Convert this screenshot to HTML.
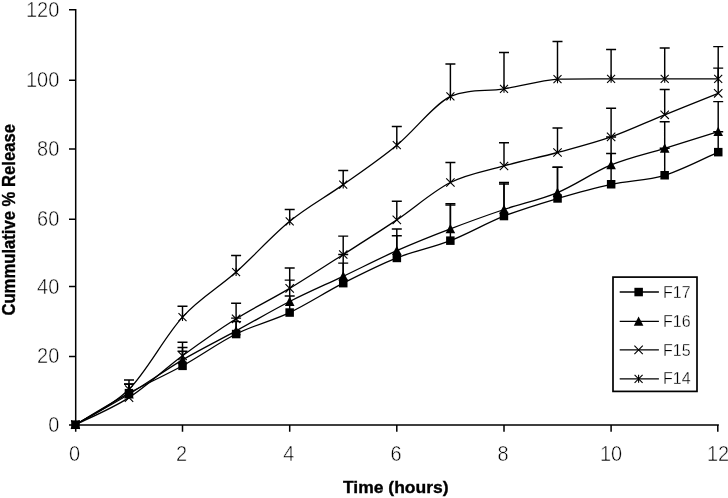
<!DOCTYPE html>
<html lang="en"><head><meta charset="utf-8"><title>Cumulative % Release vs Time</title>
<style>html,body{margin:0;padding:0;background:#fff;overflow:hidden}svg{display:block}</style></head>
<body>
<svg width="728" height="498" viewBox="0 0 728 498">
<rect width="728" height="498" fill="#fff"/>
<path d="M75.7 9.1V431.8M69.0 425.0H718.9M69.0 356.4H75.4M69.0 286.5H75.4M69.0 219.3H75.4M69.0 148.9H75.4M69.0 80.2H75.4M69.0 9.8H75.4M182.5 425.0V431.8M289.7 425.0V431.8M396.8 425.0V431.8M504.0 425.0V431.8M611.1 425.0V431.8M717.8 425.0V431.8" fill="none" stroke="#000" stroke-width="1.5"/>
<g font-family="'Liberation Sans', Arial, sans-serif" font-size="21.8px" fill="#000" stroke="#fff" stroke-width="0.5" paint-order="fill stroke">
<text x="48.2" y="432.0" textLength="11.1" lengthAdjust="spacingAndGlyphs">0</text>
<text x="37.1" y="363.4" textLength="22.2" lengthAdjust="spacingAndGlyphs">20</text>
<text x="37.1" y="293.5" textLength="22.2" lengthAdjust="spacingAndGlyphs">40</text>
<text x="37.1" y="226.3" textLength="22.2" lengthAdjust="spacingAndGlyphs">60</text>
<text x="37.1" y="155.9" textLength="22.2" lengthAdjust="spacingAndGlyphs">80</text>
<text x="25.9" y="87.2" textLength="33.4" lengthAdjust="spacingAndGlyphs">100</text>
<text x="25.9" y="16.8" textLength="33.4" lengthAdjust="spacingAndGlyphs">120</text>
<text x="68.9" y="461.4" textLength="11.1" lengthAdjust="spacingAndGlyphs">0</text>
<text x="176.1" y="461.4" textLength="11.1" lengthAdjust="spacingAndGlyphs">2</text>
<text x="283.2" y="461.4" textLength="11.1" lengthAdjust="spacingAndGlyphs">4</text>
<text x="390.4" y="461.4" textLength="11.1" lengthAdjust="spacingAndGlyphs">6</text>
<text x="497.5" y="461.4" textLength="11.1" lengthAdjust="spacingAndGlyphs">8</text>
<text x="599.9" y="461.4" textLength="22.2" lengthAdjust="spacingAndGlyphs">10</text>
<text x="707.0" y="461.4" textLength="22.2" lengthAdjust="spacingAndGlyphs">12</text>
</g>
<path d="M75.4 424.7 C84.3 419.4 111.1 403.0 129.0 393.1 C146.8 383.3 164.7 375.7 182.5 365.8 C200.4 356.0 218.3 342.9 236.1 334.0 C254.0 325.1 271.8 321.0 289.7 312.6 C307.5 304.1 325.4 292.3 343.2 283.2 C361.1 274.1 379.0 265.0 396.8 257.9 C414.7 250.8 432.5 247.6 450.4 240.6 C468.2 233.7 486.1 223.1 504.0 216.1 C521.8 209.1 539.7 203.8 557.5 198.5 C575.4 193.2 593.2 188.1 611.1 184.3 C629.0 180.4 646.8 180.6 664.7 175.3 C682.5 169.9 709.3 156.0 718.2 152.1" fill="none" stroke="#000" stroke-width="1.3"/>
<path d="M129.0 393.1V384.1M124.0 384.1H134.0M182.5 365.8V351.3M177.5 351.3H187.5M236.1 334.0V321.6M231.1 321.6H241.1M289.7 312.6V296.0M284.7 296.0H294.7M343.2 283.2V263.1M338.2 263.1H348.2M396.8 257.9V235.8M391.8 235.8H401.8M450.4 240.6V205.0M445.4 205.0H455.4M504.0 216.1V183.9M499.0 183.9H509.0M557.5 198.5V167.3M552.5 167.3H562.5M611.1 184.3V153.5M606.1 153.5H616.1M664.7 175.3V148.3M659.7 148.3H669.7M718.2 152.1V131.7M713.2 131.7H723.2" fill="none" stroke="#000" stroke-width="1.45"/>
<path d="M75.4 424.7 C84.3 419.6 111.1 405.0 129.0 394.2 C146.8 383.4 164.7 370.5 182.5 359.9 C200.4 349.4 218.3 340.6 236.1 330.9 C254.0 321.2 271.8 310.6 289.7 301.5 C307.5 292.4 325.4 284.7 343.2 276.3 C361.1 267.8 379.0 258.6 396.8 250.7 C414.7 242.8 432.5 235.7 450.4 228.9 C468.2 222.0 486.1 215.6 504.0 209.5 C521.8 203.5 539.7 200.0 557.5 192.6 C575.4 185.1 593.2 172.3 611.1 164.9 C629.0 157.5 646.8 153.8 664.7 148.3 C682.5 142.8 709.3 134.5 718.2 131.7" fill="none" stroke="#000" stroke-width="1.3"/>
<path d="M129.0 394.2V384.1M124.0 384.1H134.0M182.5 359.9V347.5M177.5 347.5H187.5M236.1 330.9V318.1M231.1 318.1H241.1M289.7 301.5V280.1M284.7 280.1H294.7M343.2 276.3V254.5M338.2 254.5H348.2M396.8 250.7V228.9M391.8 228.9H401.8M450.4 228.9V203.6M445.4 203.6H455.4M504.0 209.5V182.5M499.0 182.5H509.0M557.5 192.6V167.3M552.5 167.3H562.5M611.1 164.9V136.9M606.1 136.9H616.1M664.7 148.3V121.7M659.7 121.7H669.7M718.2 131.7V101.6M713.2 101.6H723.2" fill="none" stroke="#000" stroke-width="1.45"/>
<path d="M75.4 424.7 C84.3 420.2 111.1 409.1 129.0 397.6 C146.8 386.2 164.7 368.9 182.5 355.8 C200.4 342.7 218.3 330.0 236.1 318.8 C254.0 307.6 271.8 299.1 289.7 288.4 C307.5 277.6 325.4 265.9 343.2 254.5 C361.1 243.1 379.0 231.9 396.8 219.9 C414.7 207.9 432.5 191.5 450.4 182.5 C468.2 173.6 486.1 171.0 504.0 165.9 C521.8 160.9 539.7 157.3 557.5 152.5 C575.4 147.6 593.2 143.2 611.1 136.9 C629.0 130.6 646.8 122.0 664.7 114.8 C682.5 107.5 709.3 96.9 718.2 93.3" fill="none" stroke="#000" stroke-width="1.3"/>
<path d="M129.0 397.6V384.1M124.0 384.1H134.0M182.5 355.8V342.3M177.5 342.3H187.5M236.1 318.8V303.2M231.1 303.2H241.1M289.7 288.4V268.0M284.7 268.0H294.7M343.2 254.5V236.1M338.2 236.1H348.2M396.8 219.9V201.2M391.8 201.2H401.8M450.4 182.5V162.5M445.4 162.5H455.4M504.0 165.9V142.8M499.0 142.8H509.0M557.5 152.5V127.9M552.5 127.9H562.5M611.1 136.9V108.2M606.1 108.2H616.1M664.7 114.8V89.5M659.7 89.5H669.7M718.2 93.3V68.1M713.2 68.1H723.2" fill="none" stroke="#000" stroke-width="1.45"/>
<path d="M75.4 424.7 C84.3 418.8 111.1 407.3 129.0 389.3 C146.8 371.4 164.7 336.6 182.5 317.1 C200.4 297.5 218.3 288.1 236.1 272.1 C254.0 256.1 271.8 235.9 289.7 221.3 C307.5 206.7 325.4 197.3 343.2 184.6 C361.1 171.9 379.0 159.9 396.8 145.2 C414.7 130.5 432.5 105.8 450.4 96.4 C468.2 88.8 486.1 91.7 504.0 88.8 C521.8 86.0 539.7 80.8 557.5 79.2 C575.4 78.8 593.2 78.9 611.1 78.8 C629.0 78.8 646.8 78.8 664.7 78.8 C682.5 78.8 709.3 78.8 718.2 78.8" fill="none" stroke="#000" stroke-width="1.3"/>
<path d="M129.0 389.3V380.0M124.0 380.0H134.0M182.5 317.1V306.3M177.5 306.3H187.5M236.1 272.1V255.5M231.1 255.5H241.1M289.7 221.3V209.5M284.7 209.5H294.7M343.2 184.6V170.4M338.2 170.4H348.2M396.8 145.2V126.5M391.8 126.5H401.8M450.4 96.4V63.9M445.4 63.9H455.4M504.0 88.8V52.5M499.0 52.5H509.0M557.5 79.2V41.5M552.5 41.5H562.5M611.1 78.8V49.4M606.1 49.4H616.1M664.7 78.8V48.0M659.7 48.0H669.7M718.2 78.8V46.6M713.2 46.6H723.2" fill="none" stroke="#000" stroke-width="1.45"/>
<g fill="#000"><rect x="71.2" y="420.4" width="8.5" height="8.5"/><rect x="124.7" y="388.9" width="8.5" height="8.5"/><rect x="178.3" y="361.6" width="8.5" height="8.5"/><rect x="231.9" y="329.8" width="8.5" height="8.5"/><rect x="285.4" y="308.3" width="8.5" height="8.5"/><rect x="339.0" y="278.9" width="8.5" height="8.5"/><rect x="392.6" y="253.7" width="8.5" height="8.5"/><rect x="446.1" y="236.4" width="8.5" height="8.5"/><rect x="499.7" y="211.8" width="8.5" height="8.5"/><rect x="553.3" y="194.2" width="8.5" height="8.5"/><rect x="606.9" y="180.0" width="8.5" height="8.5"/><rect x="660.4" y="171.0" width="8.5" height="8.5"/><rect x="714.0" y="147.9" width="8.5" height="8.5"/></g>
<g fill="#000"><path d="M75.4 419.7L80.2 429.1H70.6Z"/><path d="M129.0 389.2L133.8 398.6H124.2Z"/><path d="M182.5 354.9L187.3 364.3H177.7Z"/><path d="M236.1 325.9L240.9 335.3H231.3Z"/><path d="M289.7 296.5L294.5 305.9H284.9Z"/><path d="M343.2 271.3L348.1 280.7H338.4Z"/><path d="M396.8 245.7L401.6 255.1H392.0Z"/><path d="M450.4 223.9L455.2 233.3H445.6Z"/><path d="M504.0 204.5L508.8 213.9H499.2Z"/><path d="M557.5 187.6L562.3 197.0H552.7Z"/><path d="M611.1 159.9L615.9 169.3H606.3Z"/><path d="M664.7 143.3L669.5 152.7H659.9Z"/><path d="M718.2 126.7L723.0 136.1H713.4Z"/></g>
<path d="M71.2 420.5L79.6 428.9M71.2 428.9L79.6 420.5M124.8 393.4L133.2 401.8M124.8 401.8L133.2 393.4M178.3 351.6L186.7 360.0M178.3 360.0L186.7 351.6M231.9 314.6L240.3 323.0M231.9 323.0L240.3 314.6M285.5 284.2L293.9 292.6M285.5 292.6L293.9 284.2M339.1 250.3L347.4 258.7M339.1 258.7L347.4 250.3M392.6 215.7L401.0 224.1M392.6 224.1L401.0 215.7M446.2 178.3L454.6 186.7M446.2 186.7L454.6 178.3M499.8 161.8L508.2 170.1M499.8 170.1L508.2 161.8M553.3 148.3L561.7 156.7M553.3 156.7L561.7 148.3M606.9 132.7L615.3 141.1M606.9 141.1L615.3 132.7M660.5 110.6L668.9 119.0M660.5 119.0L668.9 110.6M714.0 89.1L722.4 97.5M714.0 97.5L722.4 89.1" fill="none" stroke="#000" stroke-width="1.1"/>
<path d="M71.4 420.7L79.4 428.7M71.4 428.7L79.4 420.7M75.4 420.7V428.7M125.0 385.3L133.0 393.3M125.0 393.3L133.0 385.3M129.0 385.3V393.3M178.5 313.1L186.5 321.1M178.5 321.1L186.5 313.1M182.5 313.1V321.1M232.1 268.1L240.1 276.1M232.1 276.1L240.1 268.1M236.1 268.1V276.1M285.7 217.3L293.7 225.3M285.7 225.3L293.7 217.3M289.7 217.3V225.3M339.2 180.6L347.2 188.6M339.2 188.6L347.2 180.6M343.2 180.6V188.6M392.8 141.2L400.8 149.2M392.8 149.2L400.8 141.2M396.8 141.2V149.2M446.4 92.4L454.4 100.4M446.4 100.4L454.4 92.4M450.4 92.4V100.4M500.0 84.8L508.0 92.8M500.0 92.8L508.0 84.8M504.0 84.8V92.8M553.5 75.2L561.5 83.2M553.5 83.2L561.5 75.2M557.5 75.2V83.2M607.1 74.8L615.1 82.8M607.1 82.8L615.1 74.8M611.1 74.8V82.8M660.7 74.8L668.7 82.8M660.7 82.8L668.7 74.8M664.7 74.8V82.8M714.2 74.8L722.2 82.8M714.2 82.8L722.2 74.8M718.2 74.8V82.8" fill="none" stroke="#000" stroke-width="1.1"/>
<rect x="613" y="277.1" width="84" height="114.3" fill="#fff" stroke="#000" stroke-width="1.7"/>
<path d="M619.7 292.0H658.9" stroke="#000" stroke-width="1.3" fill="none"/>
<path d="M619.7 321.4H658.9" stroke="#000" stroke-width="1.3" fill="none"/>
<path d="M619.7 349.9H658.9" stroke="#000" stroke-width="1.3" fill="none"/>
<path d="M619.7 378.8H658.9" stroke="#000" stroke-width="1.3" fill="none"/>
<g fill="#000"><rect x="634.4" y="287.8" width="8.5" height="8.5"/><path d="M638.6 316.4L643.4 325.8H633.8Z"/></g>
<path d="M634.4 345.7L642.8 354.1M634.4 354.1L642.8 345.7M634.6 374.8L642.6 382.8M634.6 382.8L642.6 374.8M638.6 374.8V382.8" fill="none" stroke="#000" stroke-width="1.1"/>
<g font-family="'Liberation Sans', Arial, sans-serif" font-size="16px" fill="#000" stroke="#fff" stroke-width="0.3" paint-order="fill stroke">
<text x="663" y="297.6">F17</text>
<text x="663" y="327.0">F16</text>
<text x="663" y="355.5">F15</text>
<text x="663" y="384.4">F14</text>
</g>
<g font-family="'Liberation Sans', Arial, sans-serif" font-size="16.6px" font-weight="bold" fill="#000" stroke="#000" stroke-width="0.35">
<text x="343" y="492.8" font-size="17px" textLength="105.6" lengthAdjust="spacingAndGlyphs">Time (hours)</text>
<text transform="translate(14.6 315.6) rotate(-90)" font-size="18px" textLength="191.6" lengthAdjust="spacingAndGlyphs">Cummulative % Release</text>
</g>
</svg>
</body></html>
